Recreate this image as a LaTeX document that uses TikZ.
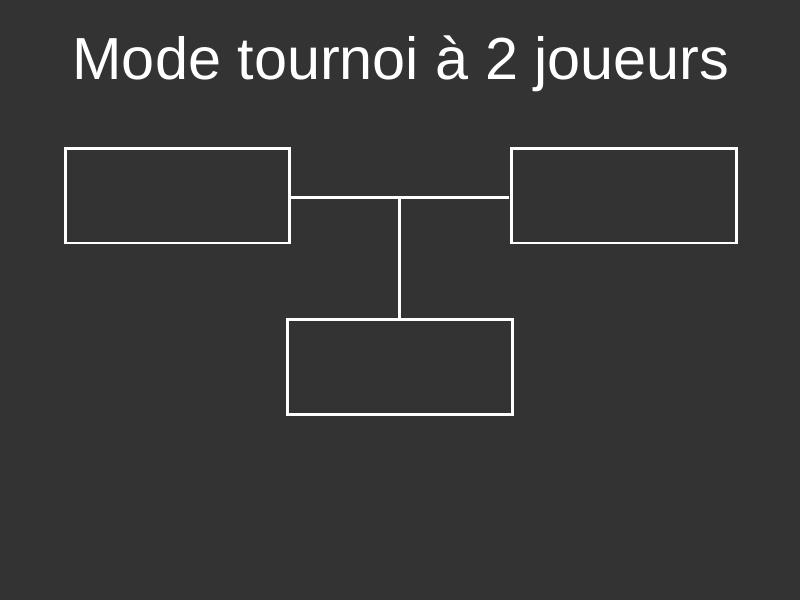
\documentclass[tikz,border=0pt]{standalone}
\usepackage{fontspec}
\setmainfont{Liberation Sans}
\definecolor{bgdark}{HTML}{333333}

\tikzset{
  playerbox/.style={draw=white, line width=1.7pt, inner sep=0pt,
    minimum width=4.5cm, minimum height=1.9cm},
  link/.style={draw=white, line width=1.7pt},
}

\begin{document}
\begin{tikzpicture}[x=0.02cm,y=-0.02cm]

% Background
\fill[bgdark] (0,0) rectangle (800,600);
\useasboundingbox (0,0) rectangle (800,600);

% Title
\node[anchor=base, text=white, font=\fontsize{33.8}{40}\selectfont, inner sep=0pt]
  (title) at (401,79) {Mode tournoi à 2 joueurs};

% Boxes
\node[playerbox] (left) at (177.5,195.5) {};
\node[playerbox] (right) at (624,195.5) {};
\node[playerbox] (final) at (400,367) {};

% Connectors
\coordinate (junction) at (399,197);
\coordinate (stub) at (509,197);
\draw[link] (left.east |- junction) -- (stub);
\draw[link] (junction) -- (junction |- final.north);

\end{tikzpicture}
\end{document}
